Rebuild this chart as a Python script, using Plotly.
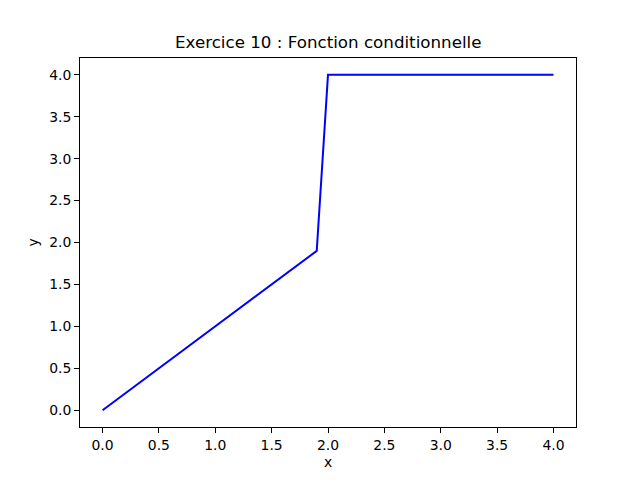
import plotly.graph_objects as go

x_values = [0.0, 0.1, 0.2, 0.3, 0.4, 0.5, 0.6, 0.7, 0.8, 0.9, 1.0, 1.1, 1.2, 1.3, 1.4,
            1.5, 1.6, 1.7, 1.8, 1.9, 2.0, 2.1, 2.2, 2.3, 2.4, 2.5, 2.6, 2.7, 2.8, 2.9,
            3.0, 3.1, 3.2, 3.3, 3.4, 3.5, 3.6, 3.7, 3.8, 3.9, 4.0]
y_values = [0.0, 0.1, 0.2, 0.3, 0.4, 0.5, 0.6, 0.7, 0.8, 0.9, 1.0, 1.1, 1.2, 1.3, 1.4,
            1.5, 1.6, 1.7, 1.8, 1.9, 4.0, 4.0, 4.0, 4.0, 4.0, 4.0, 4.0, 4.0, 4.0, 4.0,
            4.0, 4.0, 4.0, 4.0, 4.0, 4.0, 4.0, 4.0, 4.0, 4.0, 4.0]
title_text = "Exercice 10 : Fonction conditionnelle"
x_label = "x"
y_label = "y"

font = "DejaVu Sans"

fig = go.Figure()
fig.add_trace(go.Scatter(x=x_values, y=y_values, mode="lines",
                         line=dict(color="#0000ff", width=2)))

axis_common = dict(
    showgrid=False, zeroline=False, showline=True, linecolor="black", linewidth=1,
    mirror=True, ticks="outside", ticklen=5, tickwidth=1, tickcolor="black",
    tickfont=dict(family=font, size=13.9, color="black"),
    dtick=0.5, tick0=0, tickformat=".1f", automargin=False,
)
fig.update_xaxes(range=[-0.2, 4.2], title=dict(text=x_label, font=dict(family=font, size=13.9, color="black"), standoff=5), **axis_common)
fig.update_yaxes(range=[-0.2, 4.2], title=dict(text=y_label, font=dict(family=font, size=13.9, color="black"), standoff=7), **axis_common)

fig.add_annotation(text=title_text, xref="paper", yref="paper", x=0.5, y=1,
                   xanchor="center", yanchor="bottom", yshift=4, showarrow=False,
                   font=dict(family=font, size=16.7, color="black"))

fig.update_layout(
    width=632, height=472, showlegend=False,
    plot_bgcolor="white", paper_bgcolor="white",
    margin=dict(l=72, r=64, t=50, b=53, pad=0),
)

fig.write_html("out.html", config={"displayModeBar": False})
